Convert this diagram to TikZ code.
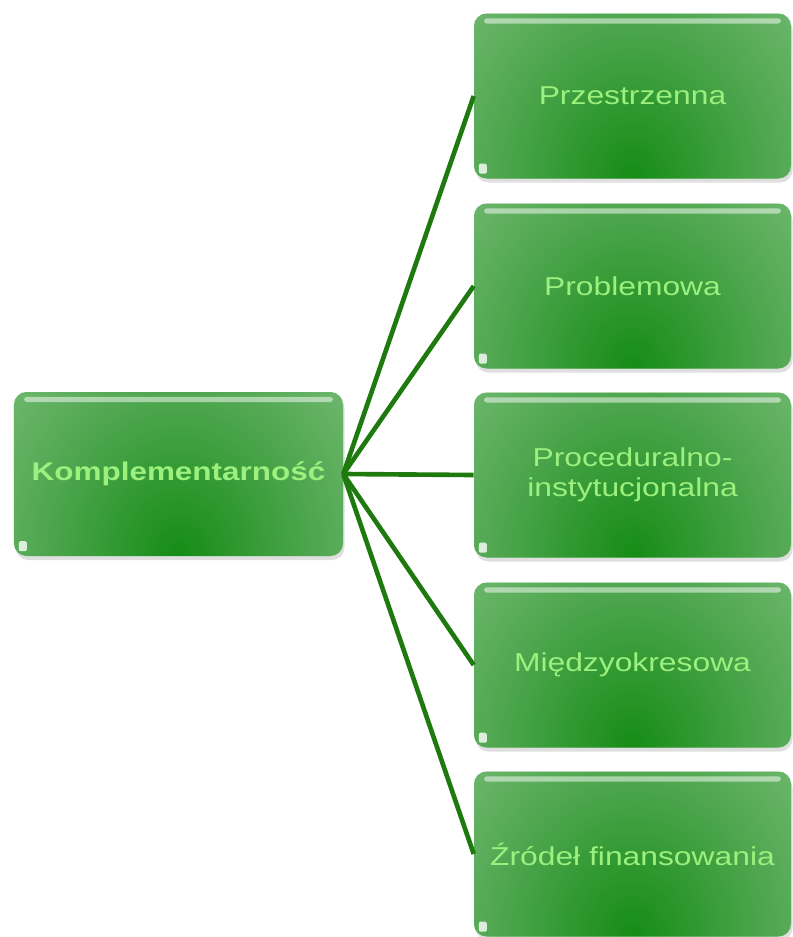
\documentclass[tikz,border=0pt]{standalone}
\usepackage{fontspec}
\setmainfont{Liberation Sans}
\usetikzlibrary{shadows,calc}
\definecolor{gdark}{HTML}{168C16}
\definecolor{gmid}{HTML}{52A852}
\definecolor{glight}{HTML}{B0DCB0}
\definecolor{gtext}{HTML}{9CF07E}
\definecolor{gline}{HTML}{1E7A0E}
\pgfdeclareradialshading{gloss}{\pgfpointorigin}{color(0bp)=(gdark); color(11bp)=(gmid); color(19bp)=(gmid!60!glight); color(25bp)=(glight); color(50bp)=(glight)}
\newcommand{\wide}[1]{\scalebox{1.23}[1]{#1}}
\tikzstyle{box}=[rectangle, rounded corners=9pt, fill=glight, text=gtext, align=center,
  font=\fontsize{18.4}{21.5}\selectfont, minimum width=7.925cm, minimum height=4.125cm,
  drop shadow={opacity=0.25, shadow xshift=0.04cm, shadow yshift=-0.1cm},
  path picture={
    \shade[shading=gloss] ($(path picture bounding box.south)+(0,0.05)$) ellipse [x radius=8.1cm, y radius=9.5cm];
    \fill[white, opacity=0.5, rounded corners=2pt] ($(path picture bounding box.north west)+(0.25,-0.12)$) rectangle ($(path picture bounding box.north east)+(-0.25,-0.25)$);
    \fill[white, opacity=0.8, rounded corners=1pt] ($(path picture bounding box.south west)+(0.12,0.12)$) rectangle +(0.2,0.25);
  }]
\tikzstyle{main}=[box, minimum width=8.225cm, minimum height=4.1cm, font=\fontsize{18.2}{21.5}\selectfont\bfseries]
\tikzstyle{link}=[draw=gline, line width=3.3pt]

\begin{document}
\begin{tikzpicture}
    \useasboundingbox (0, 0) rectangle (19.825, -23.425);
    \node [style=main] (0) at (4.4625, -11.85) {\wide{Komplementarność}};
    \node [style=box] (1) at (15.8125, -2.4) {\wide{Przestrzenna}};
    \node [style=box] (2) at (15.8125, -7.15) {\wide{Problemowa}};
    \node [style=box] (3) at (15.8125, -11.875) {\wide{Proceduralno-}\\\wide{instytucjonalna}};
    \node [style=box] (4) at (15.8125, -16.625) {\wide{Międzyokresowa}};
    \node [style=box] (5) at (15.8125, -21.35) {\wide{Źródeł finansowania}};
    \foreach \i in {1,...,5}
        \draw [style=link] (0.east) to (\i.west);
\end{tikzpicture}
\end{document}
